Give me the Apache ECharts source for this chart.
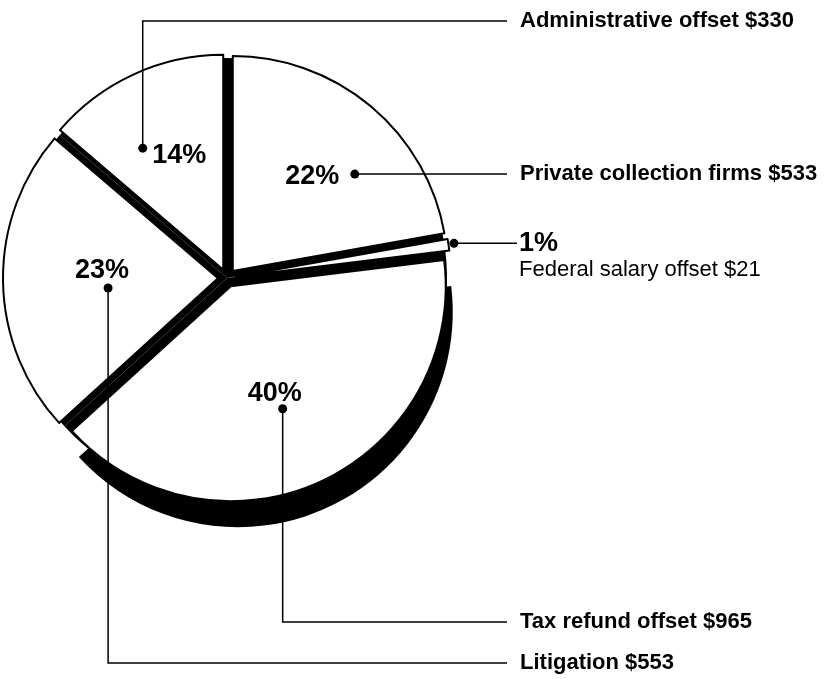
<!DOCTYPE html>
<html><head><meta charset="utf-8">
<script src="https://cdn.jsdelivr.net/npm/echarts@6/dist/echarts.min.js"></script>
<style>html,body{margin:0;padding:0;background:#fff}#c{width:826px;height:679px}</style>
</head><body><div id="c"></div>
<script>
// ---- data ----
const categories = ['Private collection firms', 'Federal salary offset', 'Tax refund offset', 'Litigation', 'Administrative offset'];
const values = [533, 21, 965, 553, 330];
// ---- layout (annotation anchors: [fraction of slice angle, fraction of radius]) ----
const dotAnchor = [[0.637, 0.766], [0.455, 1.068], [0.511, 0.661], [0.453, 0.555], [0.333, 0.720]];
const leaderY = [null, null, 622, 663, 21];   // null: horizontal from the dot
const pctPosition = ['left', null, 'top', 'top', 'right'];
const pctDistance = [11, 0, 2, 2, 5];
const pctOffset = [[0, 2], [0, 0], [-8, 5], [-6, 3], [0, 7]];
const shadowSlice = 2;

const CX = 227, CY = 278, R = 215;
const EXPLODE = 9;
const SHADOW_DX = 7, SHADOW_DY = 26;
const LINE_END = 507, LABEL_X = 520;
const FONT = '"Liberation Sans", Arial, Helvetica, sans-serif';

const total = values.reduce((a, b) => a + b, 0);
const spans = values.map(v => v / total * 360);
const starts = []; { let acc = 0; spans.forEach(s => { starts.push(acc); acc += s; }); }
const pct = values.map(v => Math.round(v / total * 100) + '%');

function dotPos(i) { return [dotAnchor[i][1], starts[i] + dotAnchor[i][0] * spans[i]]; }
function toPx(r, a) {
  const t = (90 - a) * Math.PI / 180;
  return [CX + r * R * Math.cos(t), CY - r * R * Math.sin(t)];
}

const chart = echarts.init(document.getElementById('c'), null, { renderer: 'canvas' });

const basePie = {
  type: 'pie', silent: true, radius: R, startAngle: 90, clockwise: true, avoidLabelOverlap: false,
  selectedMode: 'multiple', selectedOffset: EXPLODE
};
const transparent = 'rgba(0,0,0,0)';

const option = {
  animation: false,
  backgroundColor: '#fff',
  polar: { center: [CX, CY], radius: R * 1.2 },
  angleAxis: { type: 'value', min: 0, max: 360, startAngle: 90, clockwise: true, show: false },
  radiusAxis: { type: 'value', min: 0, max: 1.2, show: false },
  series: [
    // extruded shadow of the front slice
    Object.assign({}, basePie, {
      center: [CX + SHADOW_DX, CY + SHADOW_DY], z: 0,
      label: { show: false }, labelLine: { show: false },
      data: categories.map((n, i) => ({ name: n, value: values[i], selected: i === shadowSlice,
        itemStyle: { color: i === shadowSlice ? '#000' : transparent, borderWidth: 0 } }))
    }),
    // black base showing through the gaps
    Object.assign({}, basePie, {
      center: [CX, CY], radius: R + 5, z: 1, itemStyle: { color: '#000', borderWidth: 0 },
      label: { show: false }, labelLine: { show: false },
      data: categories.map((n, i) => ({ name: n, value: values[i] }))
    }),
    // white exploded slices
    Object.assign({}, basePie, {
      center: [CX, CY], z: 2,
      itemStyle: { color: '#fff', borderColor: '#000', borderWidth: 2 },
      label: { show: false }, labelLine: { show: false },
      data: categories.map((n, i) => ({ name: n, value: values[i], selected: true }))
    }),
    // labels and leader lines
    Object.assign({}, basePie, {
      center: [CX, CY], z: 3,
      itemStyle: { color: transparent, borderWidth: 0 },
      label: {
        show: true, position: 'outside', color: '#000', fontFamily: FONT, fontWeight: 'bold', fontSize: 22,
        formatter: p => p.dataIndex === 1
          ? '{p|' + pct[1] + '}\n{n|' + p.name + ' $' + p.value + '}'
          : p.name + ' $' + p.value,
        rich: {
          p: { fontFamily: FONT, fontWeight: 'bold', fontSize: 27, lineHeight: 27, color: '#000' },
          n: { fontFamily: FONT, fontWeight: 'normal', fontSize: 22, lineHeight: 27, color: '#000' }
        }
      },
      labelLine: { show: true, length: 5, length2: 5, lineStyle: { color: '#000', width: 1.5 } },
      labelLayout: function (params) {
        const i = params.dataIndex;
        const d = toPx.apply(null, dotPos(i));
        if (i === 1) {
          return {
            x: LABEL_X - 1, y: d[1] - 13.5, align: 'left', verticalAlign: 'top',
            labelLinePoints: [d, [(d[0] + LINE_END + 10) / 2, d[1]], [LINE_END + 10, d[1]]]
          };
        }
        const ly = leaderY[i] == null ? d[1] : leaderY[i];
        const corner = leaderY[i] == null ? [(d[0] + LINE_END) / 2, ly] : [d[0], ly];
        return {
          x: LABEL_X, y: ly, align: 'left', verticalAlign: 'middle',
          labelLinePoints: [d, corner, [LINE_END, ly]]
        };
      },
      data: categories.map((n, i) => ({ name: n, value: values[i] }))
    }),
    // dots and percentages
    {
      type: 'scatter', coordinateSystem: 'polar', silent: true, symbol: 'circle', symbolSize: 9,
      itemStyle: { color: '#000', opacity: 1 }, z: 5,
      data: values.map((v, i) => ({
        value: dotPos(i),
        label: pctPosition[i] ? {
          show: true, formatter: pct[i], position: pctPosition[i], distance: pctDistance[i], offset: pctOffset[i],
          color: '#000', fontFamily: FONT, fontWeight: 'bold', fontSize: 27
        } : { show: false }
      }))
    }
  ]
};
chart.setOption(option);
</script>
</body></html>
